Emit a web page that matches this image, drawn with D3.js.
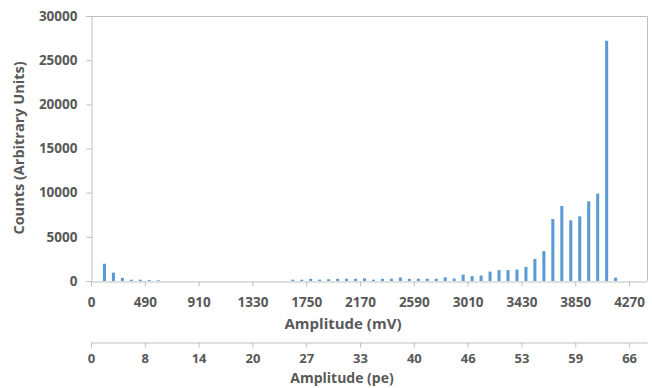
<!DOCTYPE html>
<html>
<head>
<meta charset="utf-8">
<script src="https://cdn.jsdelivr.net/npm/d3@7"></script>
<style>
  body { margin: 0; background: #fff; }
  text { font-family: "Open Sans", "Liberation Sans", sans-serif; font-weight: bold; fill: #595959; }
</style>
</head>
<body>
<div id="chart"></div>
<script>
// bins of 70 mV, 62 bins
var bins = d3.range(62).map(function(i){ return i * 70; });

var counts = [
  0, 1950, 950, 350, 150, 150, 100, 80, 0, 0,
  0, 0, 0, 0, 0, 0, 0, 0, 0, 0,
  0, 0, 150, 150, 250, 150, 200, 250, 250, 250,
  300, 150, 250, 250, 400, 250, 250, 250, 250, 420,
  280, 720, 550, 620, 1060, 1230, 1230, 1300, 1600, 2490,
  3380, 7020, 8490, 6870, 7320, 9020, 9890, 27200, 380, 0,
  0, 0
];

var mvLabels = ["0", "490", "910", "1330", "1750", "2170", "2590", "3010", "3430", "3850", "4270"];
var peLabels = ["0", "8", "14", "20", "27", "33", "40", "46", "53", "59", "66"];
var yTicks = [0, 5000, 10000, 15000, 20000, 25000, 30000];

function draw_chart(selector){
  var w = 652;
  var h = 388;
  var left = 91, right = 647, top = 16, bottom = 281;
  var axisColor = "#bfbfbf";

  var svg = d3.select(selector)
    .append("svg")
    .attr("width", w)
    .attr("height", h);

  var x = d3.scaleBand()
    .domain(bins)
    .range([left, right])
    .paddingInner(0.66)
    .paddingOuter(0.33);

  var xb = d3.scaleLinear()   // bin boundaries
    .domain([0, bins.length])
    .range([left, right]);

  var y = d3.scaleLinear()
    .domain([0, 30000])
    .range([bottom, top]);

  // plot frame (top and right)
  svg.append("path")
    .attr("d", "M" + (left - 5) + "," + (top + 0.5) + "H" + (right + 0.5) + "V" + bottom)
    .attr("fill", "none")
    .attr("stroke", axisColor);

  // Y axis
  var yAxis = svg.append("g")
    .attr("transform", "translate(" + (left + 0.5) + ",0)")
    .call(d3.axisLeft(y).tickValues(yTicks).tickSize(5).tickPadding(9).tickFormat(d3.format("d")));
  yAxis.select(".domain").attr("stroke", axisColor);
  yAxis.selectAll(".tick line").attr("stroke", axisColor);
  yAxis.selectAll("text").style("font-size", "13.5px");

  // bars
  svg.append("g")
    .selectAll("rect")
    .data(counts)
    .enter()
    .append("rect")
      .attr("x", function(d, i){ return x(bins[i]); })
      .attr("width", x.bandwidth())
      .attr("y", function(d){ return y(d); })
      .attr("height", function(d){ return bottom - y(d); })
      .style("fill", "#5b9bd5");

  // X axis (mV)
  var tickIdx = d3.range(mvLabels.length).map(function(i){ return i * 6; });
  var xAxis = svg.append("g")
    .attr("transform", "translate(0," + (bottom + 0.5) + ")")
    .call(d3.axisBottom(xb).tickValues(tickIdx).tickSize(5).tickSizeOuter(0).tickPadding(11)
      .tickFormat(function(d, i){ return mvLabels[i]; }));
  xAxis.select(".domain").attr("stroke", axisColor);
  xAxis.selectAll(".tick line").attr("stroke", axisColor);
  xAxis.selectAll("text").style("font-size", "13.5px");

  // second X axis (pe)
  var peAxis = svg.append("g")
    .attr("transform", "translate(0,342.5)")
    .call(d3.axisBottom(xb).tickValues(tickIdx).tickSize(5).tickSizeOuter(0).tickPadding(6)
      .tickFormat(function(d, i){ return peLabels[i]; }));
  peAxis.select(".domain").attr("stroke", axisColor);
  peAxis.selectAll(".tick line").attr("stroke", axisColor);
  peAxis.selectAll("text").style("font-size", "13px");

  // axis titles
  svg.append("text")
    .attr("x", 343).attr("y", 329)
    .attr("text-anchor", "middle")
    .style("font-size", "15px")
    .text("Amplitude (mV)");

  svg.append("text")
    .attr("x", 342).attr("y", 383)
    .attr("text-anchor", "middle")
    .style("font-size", "14px")
    .text("Amplitude (pe)");

  svg.append("text")
    .attr("transform", "translate(24,148) rotate(-90)")
    .attr("text-anchor", "middle")
    .style("font-size", "14.5px")
    .text("Counts (Arbitrary Units)");
}

draw_chart("#chart");
</script>
</body>
</html>
